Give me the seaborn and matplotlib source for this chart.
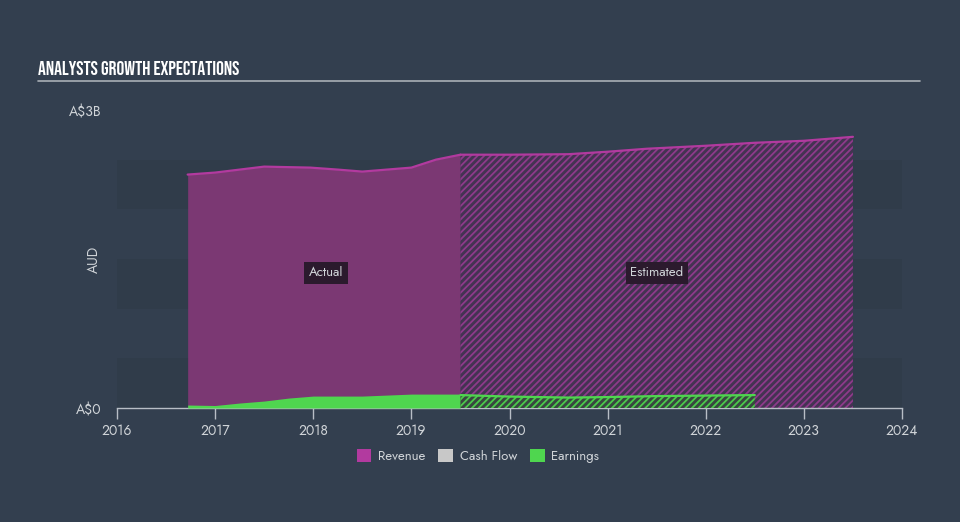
import numpy as np
import pandas as pd
import matplotlib
matplotlib.use("Agg")
import matplotlib.pyplot as plt
import seaborn as sns
from matplotlib.patches import Patch

# ---- data (A$ billions) ----
rev_act_year = [2016.72, 2017.0, 2017.25, 2017.5, 2017.97, 2018.25, 2018.5, 2018.75, 2019.0, 2019.25, 2019.5]
rev_act_val = [2.35, 2.37, 2.40, 2.43, 2.42, 2.40, 2.38, 2.40, 2.42, 2.50, 2.55]
rev_est_year = [2019.5, 2020.0, 2020.6, 2021.0, 2021.4, 2022.0, 2022.5, 2023.0, 2023.5]
rev_est_val = [2.55, 2.55, 2.555, 2.58, 2.61, 2.64, 2.67, 2.69, 2.73]
earn_act_year = [2016.72, 2017.0, 2017.25, 2017.5, 2017.75, 2018.0, 2018.5, 2019.0, 2019.5]
earn_act_val = [0.03, 0.025, 0.05, 0.07, 0.10, 0.12, 0.12, 0.14, 0.14]
earn_est_year = [2019.5, 2020.0, 2020.6, 2021.0, 2021.5, 2022.0, 2022.5]
earn_est_val = [0.13, 0.115, 0.105, 0.11, 0.12, 0.125, 0.13]
x_ticks = [2016, 2017, 2018, 2019, 2020, 2021, 2022, 2023, 2024]
legend_labels = ["Revenue", "Cash Flow", "Earnings"]

BG = "#333f4f"
BAND = "#303c4a"
REV_LINE = "#b23a9f"
REV_FILL = "#7b3873"
EARN = "#4fd64f"
CASH = "#c8c8c8"
TXT = "#d0d4d8"

sns.set_style("dark")
BODY = ["Jost", "DejaVu Sans"]
plt.rcParams["font.family"] = BODY
plt.rcParams["hatch.linewidth"] = 1.3

fig = plt.figure(figsize=(9.6, 5.22), dpi=100, facecolor=BG)
ax = fig.add_axes([117 / 960, 1 - 408 / 522, (902 - 117) / 960, (408 - 110) / 522])
ax.set_facecolor(BG)
ax.set_xlim(2016, 2024)
ax.set_ylim(0, 3.0)

# bands
for lo in [0.0, 1.0, 2.0]:
    ax.axhspan(lo, lo + 0.5, color=BAND, zorder=0, lw=0)

df_ra = pd.DataFrame({"year": rev_act_year, "val": rev_act_val})
df_re = pd.DataFrame({"year": rev_est_year, "val": rev_est_val})
df_ea = pd.DataFrame({"year": earn_act_year, "val": earn_act_val})
df_ee = pd.DataFrame({"year": earn_est_year, "val": earn_est_val})

# revenue actual
ax.fill_between(df_ra["year"], 0, df_ra["val"], color=REV_FILL, lw=0, zorder=2)
# revenue estimated (hatched)
ax.fill_between(df_re["year"], 0, df_re["val"], facecolor="#443352", edgecolor="#8e3a8b",
                hatch="/////", lw=0, zorder=2)
sns.lineplot(data=df_ra, x="year", y="val", ax=ax, color=REV_LINE, lw=1.6, zorder=3)
sns.lineplot(data=df_re, x="year", y="val", ax=ax, color=REV_LINE, lw=1.6, zorder=3)

# earnings
ax.fill_between(df_ea["year"], 0, df_ea["val"], color=EARN, lw=0, zorder=4)
ax.fill_between(df_ee["year"], 0, df_ee["val"], facecolor="#38473f", edgecolor="#4cc94c",
                hatch="/////", lw=0, zorder=4)
sns.lineplot(data=df_ee, x="year", y="val", ax=ax, color=EARN, lw=1.6, zorder=5)

# axes styling
for s in ["top", "right", "left"]:
    ax.spines[s].set_visible(False)
ax.spines["bottom"].set_color("#b8bec6")
ax.spines["bottom"].set_linewidth(1)
ax.set_xticks(x_ticks)
ax.set_xticklabels([str(t) for t in x_ticks])
ax.tick_params(axis="x", bottom=True, colors="#b8bec6", labelcolor=TXT, labelsize=10,
               length=8, width=1, direction="out", pad=3)
ax.set_yticks([0, 3.0])
ax.set_yticklabels(["A$0", "A$3B"])
ax.tick_params(axis="y", left=False, length=0, labelcolor=TXT, labelsize=10, pad=11)
ax.set_xlabel("")
ax.set_ylabel("AUD", color=TXT, fontsize=10)
ax.yaxis.set_label_coords(-0.02, 0.5)
ax.grid(False)

# labels
box = dict(boxstyle="square,pad=0.35", fc="#2b1a2d", ec="none")
ax.text(2018.13, 1.36, "Actual", color=TXT, fontsize=9.5, ha="center", va="center", bbox=box, zorder=6)
ax.text(2021.5, 1.36, "Estimated", color=TXT, fontsize=9.5, ha="center", va="center", bbox=box, zorder=6)

# title
fig.text(38 / 960, 1 - 68 / 522, "ANALYSTS GROWTH EXPECTATIONS", color="white", fontsize=14,
         fontweight="bold", family=["Bebas Neue", "Oswald", "DejaVu Sans"], va="center", ha="left")
fig.add_artist(plt.Line2D([38 / 960, 920 / 960], [1 - 81 / 522, 1 - 81 / 522], color="#a9afb6", lw=1.2))

# legend
handles = [Patch(facecolor=c, edgecolor="none") for c in [REV_LINE, CASH, EARN]]
leg = fig.legend(handles, legend_labels, loc="center", bbox_to_anchor=(478 / 960, 1 - 456 / 522),
                 ncol=3, frameon=False, fontsize=9.5, handlelength=1.1, handleheight=1.1,
                 handletextpad=0.5, columnspacing=1.0)
for t in leg.get_texts():
    t.set_color(TXT)

fig.savefig("out.png", dpi=100, facecolor=BG)
